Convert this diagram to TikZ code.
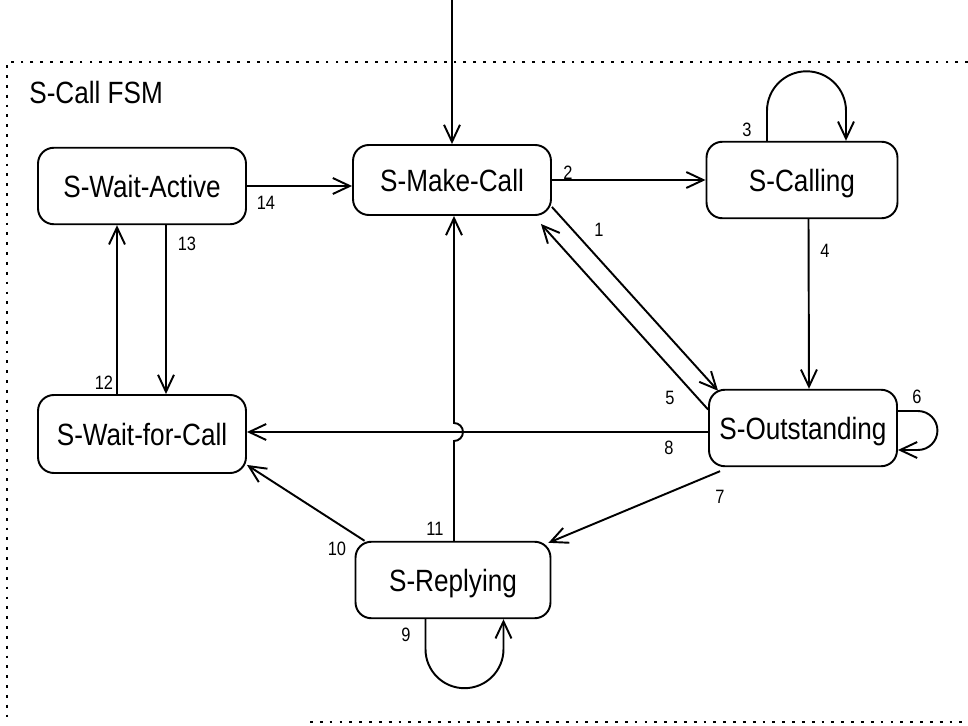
\documentclass[tikz,border=0pt]{standalone}
\usepackage{fontspec}
\setmainfont{Liberation Sans}[FakeStretch=0.85]
\usetikzlibrary{arrows.meta}

\begin{document}
\begin{tikzpicture}[x=0.02cm,y=-0.02cm]
                    \tikzstyle{every node}+=[inner sep=0pt]
                    \tikzstyle{fsmstate}=[draw=black, line width=1.1pt, rounded corners=9pt, minimum height=1.53cm, text height=12.6pt, text depth=0pt, font=\fontsize{17.5}{20}\selectfont]
                    \tikzstyle{trans}=[draw=black, line width=1.1pt, -{Straight Barb[length=3.4mm,width=3.2mm]}]
                    \tikzstyle{num}=[font=\fontsize{11}{12}\selectfont]
                    \tikzstyle{frame}=[black, line width=1.3pt, dash pattern=on 1.6pt off 4pt]
                    \useasboundingbox (0,0) rectangle (968,726);
                    \draw [frame] (968,62) -- (7,62) -- (7,722);
                    \draw [frame] (310,722) -- (968,722);
                    \node [anchor=west, font=\fontsize{17.5}{20}\selectfont] (title) at (29,93) {S-Call FSM};
                    \node [fsmstate, minimum width=4.16cm] (wa) at (142,186) {S-Wait-Active};
                    \node [fsmstate, minimum width=4.16cm, minimum height=1.56cm] (wc) at (142,434) {S-Wait-for-Call};
                    \node [fsmstate, minimum width=3.96cm, minimum height=1.4cm] (mk) at (452,180) {S-Make-Call};
                    \node [fsmstate, minimum width=3.82cm] (cl) at (802,180) {S-Calling};
                    \node [fsmstate, minimum width=3.76cm] (os) at (803,428) {S-Outstanding};
                    \node [fsmstate, minimum width=3.9cm] (rp) at (453,580) {S-Replying};
                    \coordinate (init) at (452,0);
                    \coordinate (hop) at (454,432);
                    \draw [trans] (init) -- (mk.north -| init);
                    \draw [trans] (wa.east) -- (wa.east -| mk.west);
                    \draw [trans] (mk.east) -- (mk.east -| cl.west);
                    \draw [trans] ([xshift=-0.7cm]cl.north) -- ++(0,-30) arc[start angle=180, end angle=0, radius=0.79cm] -- ([xshift=0.88cm]cl.north);
                    \draw [trans] ([xshift=0.13cm]cl.south) -- ([xshift=0.12cm]os.north);
                    \draw [trans] ([yshift=-0.54cm]mk.east) -- ([shift={(10,2)}]os.north west);
                    \draw [trans] ([yshift=0.37cm]os.west) -- ([shift={(-11,8)}]mk.south east);
                    \draw [trans] ([yshift=0.34cm]os.east) -- ++(20,0) arc[start angle=90, end angle=-90, radius=0.39cm] -- ([yshift=-0.44cm]os.east);
                    \draw [trans] ([shift={(12,4)}]os.south west) -- ([shift={(-3,2)}]rp.north east);
                    \draw [trans] (os.west |- hop) -- (wc.east |- hop);
                    \draw [trans] ([xshift=-0.55cm]rp.south) -- ++(0,30) arc[start angle=180, end angle=360, radius=0.78cm] -- ([xshift=1.01cm]rp.south);
                    \draw [trans] ([shift={(10,0)}]rp.north west) -- ([shift={(0,-9)}]wc.south east);
                    \draw [trans] (rp.north -| hop) -- ([yshift=-0.18cm]hop) arc[start angle=-90, end angle=90, radius=0.18cm] -- (mk.south -| hop);
                    \draw [trans] ([xshift=-0.5cm]wc.north) -- ([xshift=-0.5cm]wa.south);
                    \draw [trans] ([xshift=0.48cm]wa.south) -- ([xshift=0.48cm]wc.north);
                    \node [num] (l1) at (599,230) {1};
                    \node [num] (l2) at (568,173) {2};
                    \node [num] (l3) at (747,130) {3};
                    \node [num] (l4) at (825,251) {4};
                    \node [num] (l5) at (670,398) {5};
                    \node [num] (l6) at (917,397) {6};
                    \node [num] (l7) at (720,497) {7};
                    \node [num] (l8) at (669,448) {8};
                    \node [num] (l9) at (406,635) {9};
                    \node [num] (l10) at (337,549) {10};
                    \node [num] (l11) at (435,529) {11};
                    \node [num] (l12) at (104,383) {12};
                    \node [num] (l13) at (187,244) {13};
                    \node [num] (l14) at (266,203) {14};
                \end{tikzpicture}
\end{document}
